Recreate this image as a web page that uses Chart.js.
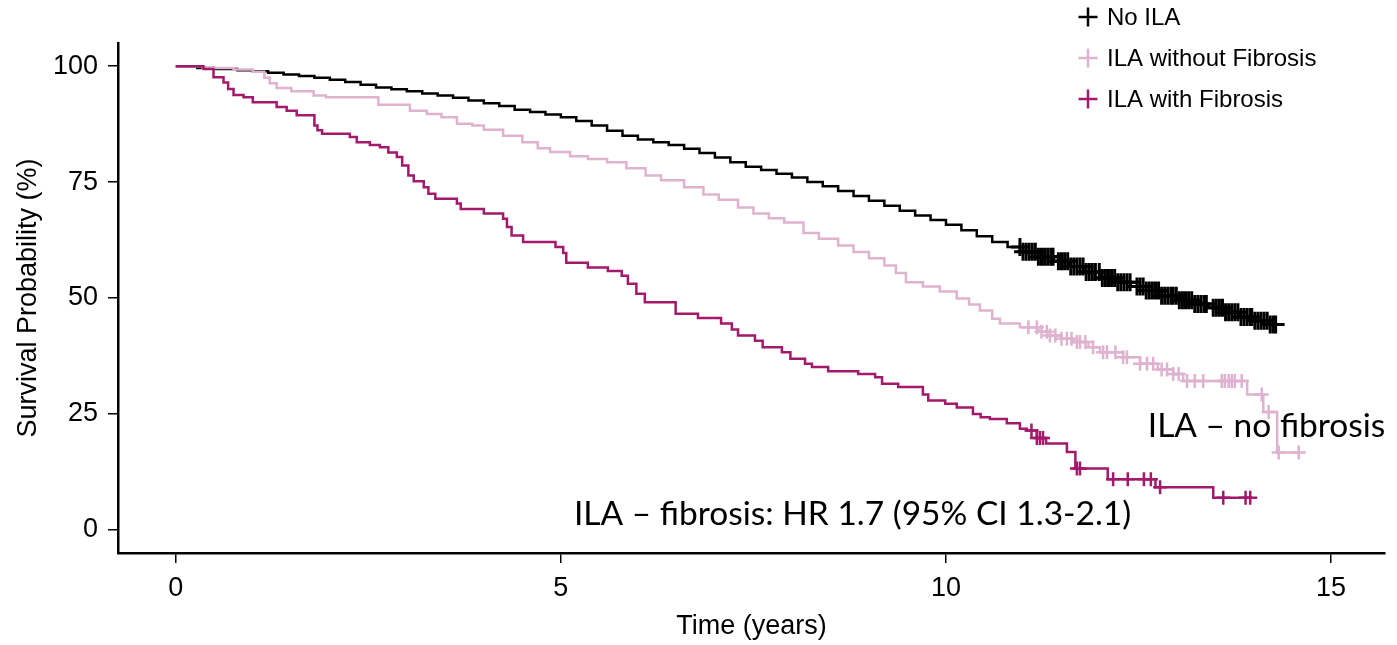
<!DOCTYPE html>
<html>
<head>
<meta charset="utf-8">
<script src="https://cdn.jsdelivr.net/npm/chart.js@4"></script>
<style>
  html, body { margin: 0; padding: 0; background: #fff; }
  canvas { display: block; }
</style>
</head>
<body>
<canvas id="km" width="1397" height="645"></canvas>
<script>
// Kaplan-Meier survival by ILA group.

const seriesNames = ['No ILA', 'ILA without Fibrosis', 'ILA with Fibrosis'];
const seriesColors = ['#000000', '#dfb3cf', '#a3196b'];
const xTicks = [0, 5, 10, 15];
const yTicks = [0, 25, 50, 75, 100];
const noteTexts = ['ILA \u2013 no fibrosis', 'ILA \u2013 fibrosis: HR 1.7 (95% CI 1.3-2.1)'];

// No ILA
const noIlaTimes = [0, 0.28, 0.5, 0.8, 1.0, 1.2, 1.4, 1.6, 1.8, 2.0, 2.2, 2.4, 2.6, 2.8, 3.0, 3.2, 3.4, 3.6, 3.8, 4.0,
  4.2, 4.4, 4.6, 4.8, 5.0, 5.2, 5.4, 5.6, 5.8, 6.0, 6.2, 6.4, 6.6, 6.8, 7.0, 7.2, 7.4, 7.6, 7.8, 8.0,
  8.2, 8.4, 8.6, 8.8, 9.0, 9.2, 9.4, 9.6, 9.8, 10.0, 10.2, 10.4, 10.6, 10.8, 11.0, 11.2, 11.4, 11.6, 11.8, 12.0,
  12.2, 12.4, 12.6, 12.8, 13.0, 13.2, 13.4, 13.6, 13.8, 14.0, 14.2, 14.28];
const noIlaSurv = [100, 99.6, 99.4, 99.1, 98.9, 98.6, 98.2, 97.9, 97.5, 97.1, 96.6, 96.0, 95.4, 95.0, 94.6, 94.1, 93.7, 93.2, 92.6, 92.0,
  91.4, 90.6, 90.1, 89.6, 89.0, 88.2, 87.2, 86.1, 85.0, 84.2, 83.6, 83.0, 82.2, 81.3, 80.3, 79.3, 78.3, 77.6, 76.8, 76.0,
  75.0, 74.1, 73.1, 72.0, 71.0, 69.9, 68.8, 67.8, 66.8, 65.8, 64.6, 63.3, 62.1, 61.0, 60.0, 58.9, 57.9, 56.8, 55.6, 54.3,
  53.4, 52.5, 51.6, 50.5, 49.5, 48.7, 47.9, 46.9, 45.9, 45.1, 44.3, 44.3];
const noIlaCensor = [10.96, 11.0, 11.04, 11.08, 11.12, 11.16, 11.2, 11.24, 11.28, 11.32, 11.36, 11.39,
  11.46, 11.5, 11.54, 11.58, 11.62, 11.66, 11.7, 11.74, 11.78, 11.82, 11.86, 11.9, 11.94,
  11.99, 12.03, 12.07, 12.11, 12.15, 12.19, 12.23, 12.27, 12.31, 12.35, 12.39,
  12.48, 12.52, 12.56, 12.6, 12.64, 12.68, 12.72, 12.76, 12.8, 12.84, 12.88, 12.92, 12.95,
  12.99, 13.03, 13.07, 13.11, 13.15, 13.19, 13.23, 13.27, 13.31, 13.35, 13.38,
  13.47, 13.51, 13.55, 13.59, 13.63, 13.67, 13.71, 13.75, 13.79, 13.83, 13.87, 13.91, 13.95, 13.97,
  14.01, 14.05, 14.09, 14.13, 14.17, 14.21, 14.25, 14.28];

// ILA without fibrosis
const ilaTimes = [0, 0.35, 0.75, 1.0, 1.15, 1.22, 1.31, 1.5, 1.79, 1.95, 2.63, 3.04, 3.26, 3.45, 3.65, 3.85, 4.0, 4.25, 4.5, 4.7,
  4.86, 5.12, 5.35, 5.6, 5.85, 6.1, 6.3, 6.6, 6.85, 7.05, 7.3, 7.5, 7.7, 7.9, 8.15, 8.35, 8.6, 8.8, 9.0, 9.2,
  9.35, 9.48, 9.7, 9.92, 10.14, 10.3, 10.44, 10.6, 10.7, 10.96, 11.2, 11.35, 11.5, 11.65, 11.85, 12.0, 12.3, 12.52, 12.75, 12.95,
  13.08, 13.91, 14.12, 14.3, 14.58];
const ilaSurv = [100, 99.6, 99.3, 98.8, 97.5, 96.3, 95.3, 94.6, 93.7, 93.3, 91.7, 90.4, 89.7, 89.0, 87.6, 87.2, 86.3, 85.0, 83.6, 82.3,
  81.5, 80.6, 80.0, 79.3, 78.0, 76.4, 75.4, 73.9, 72.3, 71.2, 69.5, 68.2, 67.2, 66.3, 64.0, 62.8, 61.3, 59.9, 58.6, 57.0,
  55.4, 53.4, 52.5, 51.4, 49.9, 48.6, 47.3, 45.5, 44.5, 43.7, 42.7, 41.9, 41.2, 40.5, 39.4, 38.3, 37.2, 35.8, 34.6, 33.6,
  32.1, 29.2, 25.4, 16.7, 16.7];
const ilaCensor = [11.07, 11.18, 11.24, 11.31, 11.35, 11.42, 11.5, 11.57, 11.63, 11.7, 11.74, 11.81, 11.91, 12.04, 12.09,
  12.2, 12.3, 12.35, 12.52, 12.61, 12.69, 12.8, 12.87, 12.95, 13.02, 13.13, 13.23, 13.34, 13.58, 13.62, 13.67, 13.71,
  13.75, 13.84, 14.1, 14.19, 14.32, 14.58];

// ILA with fibrosis
const fibTimes = [0, 0.36, 0.49, 0.62, 0.68, 0.75, 0.88, 1.0, 1.31, 1.44, 1.57, 1.8, 1.84, 1.9, 2.26, 2.35, 2.52, 2.65, 2.76, 2.87,
  2.94, 3.02, 3.09, 3.22, 3.28, 3.37, 3.65, 3.7, 4.0, 4.25, 4.3, 4.36, 4.51, 4.93, 5.03, 5.07, 5.35, 5.61, 5.79, 5.87,
  5.98, 6.09, 6.49, 6.78, 7.08, 7.22, 7.3, 7.52, 7.62, 7.87, 7.98, 8.17, 8.26, 8.47, 8.86, 9.08, 9.17, 9.38, 9.7, 9.77,
  9.99, 10.14, 10.35, 10.45, 10.57, 10.79, 10.96, 11.05, 11.18, 11.3, 11.57, 11.68, 12.1, 12.72, 13.47, 13.95];
const fibSurv = [100, 99.4, 97.6, 96.5, 95.1, 93.8, 93.3, 92.2, 91.2, 90.4, 89.4, 87.2, 86.2, 85.4, 84.7, 83.6, 83.0, 82.5, 81.4, 80.4,
  78.6, 76.4, 75.2, 73.9, 72.5, 71.4, 70.4, 69.2, 68.2, 67.1, 65.3, 63.5, 62.1, 61.0, 59.7, 57.6, 56.6, 55.8, 54.8, 53.1,
  50.9, 49.1, 46.6, 45.7, 44.5, 43.2, 41.9, 40.8, 39.4, 38.3, 36.9, 35.8, 35.1, 34.2, 33.6, 32.9, 31.5, 30.8, 29.2, 27.9,
  27.2, 26.4, 25.0, 24.3, 23.9, 23.0, 21.8, 21.4, 19.8, 18.6, 16.8, 13.2, 10.9, 9.2, 6.9, 6.9];
const fibCensor = [11.11, 11.18, 11.22, 11.26, 11.7, 11.74, 12.17, 12.36, 12.57, 12.66, 12.78, 13.6, 13.89, 13.95];

function survAt(times, surv, t) {
  let v = surv[0];
  for (let i = 0; i < times.length; i++) {
    if (times[i] <= t) v = surv[i];
  }
  return v;
}

function curveData(times, surv) {
  return times.map((t, i) => ({ x: t, y: surv[i] }));
}

function censorData(times, surv, censor) {
  return censor.map((t) => ({ x: t, y: survAt(times, surv, t) }));
}

// the No ILA group is censored so densely that its marks merge into a band
const groups = [
  { times: noIlaTimes, surv: noIlaSurv, censor: noIlaCensor, radius: 9, width: 3 },
  { times: ilaTimes, surv: ilaSurv, censor: ilaCensor, radius: 7, width: 2.5 },
  { times: fibTimes, surv: fibSurv, censor: fibCensor, radius: 7, width: 2.5 },
];

const datasets = [];
groups.forEach((g, i) => {
  const color = seriesColors[i];
  const order = groups.length - i;
  datasets.push({
    label: seriesNames[i],
    data: curveData(g.times, g.surv),
    borderColor: color,
    borderWidth: 2.5,
    stepped: true,
    pointRadius: 0,
    fill: false,
    order,
  });
  datasets.push({
    label: seriesNames[i] + ' censored',
    data: censorData(g.times, g.surv, g.censor),
    showLine: false,
    pointStyle: 'cross',
    pointRadius: g.radius,
    pointBorderWidth: g.width,
    pointBorderColor: color,
    pointBackgroundColor: color,
    order,
  });
});

const axisFont = { family: '"Liberation Sans", Arial, Helvetica, sans-serif', size: 27 };

// legend and the two text notes sit on top of the plot
const overlay = {
  id: 'kmOverlay',
  afterDatasetsDraw(chart, args, opts) {
    const { ctx } = chart;
    const xs = chart.scales.x;
    const ys = chart.scales.y;
    ctx.save();

    ctx.fillStyle = '#000';
    ctx.font = opts.noteFont;
    ctx.textAlign = 'left';
    ctx.textBaseline = 'alphabetic';
    opts.notes.forEach((n, i) => {
      ctx.fillText(noteTexts[i], xs.getPixelForValue(n.x), ys.getPixelForValue(n.y));
    });

    ctx.font = opts.legendFont;
    ctx.textBaseline = 'middle';
    seriesNames.forEach((name, i) => {
      const cy = opts.legendTop + i * opts.legendGap;
      const cx = opts.legendX;
      ctx.strokeStyle = seriesColors[i];
      ctx.lineWidth = 2.5;
      ctx.beginPath();
      ctx.moveTo(cx - 9.5, cy);
      ctx.lineTo(cx + 9.5, cy);
      ctx.moveTo(cx, cy - 9.5);
      ctx.lineTo(cx, cy + 9.5);
      ctx.stroke();
      ctx.fillStyle = '#000';
      ctx.fillText(name, cx + 19, cy + 1);
    });
    ctx.restore();
  },
};

new Chart(document.getElementById('km'), {
  type: 'line',
  data: { datasets },
  plugins: [overlay],
  options: {
    responsive: false,
    animation: false,
    layout: { padding: { top: 43, right: 12, bottom: 0, left: 0 } },
    plugins: {
      legend: { display: false },
      tooltip: { enabled: false },
      kmOverlay: {
        noteFont: '33.5px Lato, "Open Sans", sans-serif',
        notes: [{ x: 12.62, y: 20.1 }, { x: 5.17, y: 1.14 }],
        legendFont: '24px "Liberation Sans", Arial, Helvetica, sans-serif',
        legendX: 1088,
        legendTop: 17,
        legendGap: 41,
      },
    },
    scales: {
      x: {
        type: 'linear',
        min: -0.75,
        max: 15.7,
        afterBuildTicks: (s) => { s.ticks = xTicks.map((v) => ({ value: v })); },
        afterFit: (s) => { s.height = 92; },
        ticks: { color: '#000', font: axisFont, padding: 9, maxRotation: 0 },
        grid: { drawOnChartArea: false, drawTicks: true, tickLength: 10, color: '#000', lineWidth: 1.5 },
        border: { display: true, color: '#000', width: 2.5 },
        title: { display: true, text: 'Time (years)', color: '#000', font: axisFont, padding: { top: 0, bottom: 2 } },
      },
      y: {
        type: 'linear',
        min: -5,
        max: 105,
        afterBuildTicks: (s) => { s.ticks = yTicks.map((v) => ({ value: v })); },
        afterFit: (s) => { s.width = 118; },
        ticks: { color: '#000', font: axisFont, padding: 10 },
        grid: { drawOnChartArea: false, drawTicks: true, tickLength: 10, color: '#000', lineWidth: 1.5 },
        border: { display: true, color: '#000', width: 2.5 },
        title: { display: true, text: 'Survival Probability (%)', color: '#000', font: axisFont, padding: { top: 12, bottom: 0 } },
      },
    },
  },
});
</script>
</body>
</html>
